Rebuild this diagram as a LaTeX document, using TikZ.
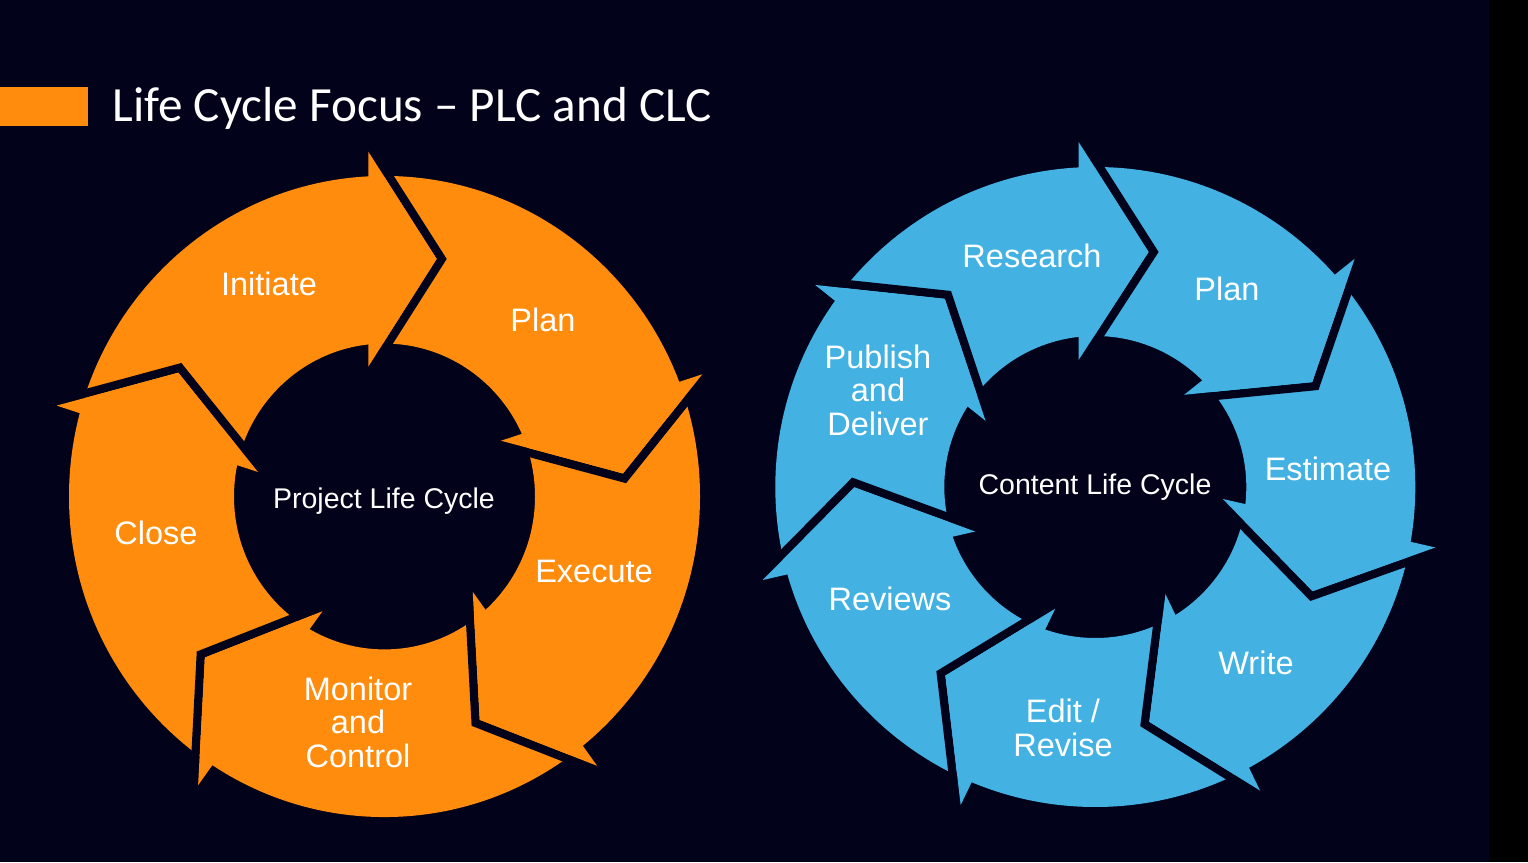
\documentclass[tikz,border=0pt]{standalone}
\usepackage{fontspec}
\setmainfont{Liberation Sans}
\newfontfamily\titlefont{Carlito}
\usepackage{tikz}
\usetikzlibrary{positioning}
\definecolor{navy}{HTML}{02021A}
\definecolor{plcorange}{HTML}{FF8C0C}
\definecolor{clcblue}{HTML}{43B2E3}

\begin{document}
\begin{tikzpicture}
[x=1pt,y=1pt,
label/.style = {text = white, font = \fontsize{32.5}{33.5}\selectfont, align = center},
hub/.style = {text = white, font = \fontsize{28.5}{30}\selectfont},]
\useasboundingbox (0,0) rectangle (1528,862);
\fill[navy] (0,0) rectangle (1489,862);
\fill[black] (1489,0) rectangle (1528,862);
\fill[plcorange] (0,736) rectangle (88,775);
\node (Title) at (109,740)[anchor=base west,text=white,font=\titlefont\fontsize{49.2}{60}\selectfont] {Life Cycle Focus – PLC and CLC};

% project life cycle ring
\begin{scope}[shift={(384.5,365.5)},yscale=1.016]
\fill[plcorange,even odd rule] (0,0) circle (315.5) (0,0) circle (150.5);
\foreach \i in {0,...,4}
  \fill[navy,rotate=-72*\i] (-16.2,339.4) -- (52.2,233.8) -- (-16.2,127.8) -- (-6.2,127.8) -- (62.2,233.8) -- (-6.2,339.4) -- cycle;
\foreach \i in {0,...,4}
  \fill[plcorange,rotate=-72*\i] (-16.2,339.4) -- (52.2,233.8) -- (-16.2,127.8) -- cycle;
\end{scope}

% content life cycle ring
\begin{scope}[shift={(1095.3,375)}]
\fill[clcblue,even odd rule] (0,0) circle (320) (0,0) circle (151);
\foreach \i in {0,...,6}
  \fill[navy,rotate=-360/7*\i] (-16.7,345) -- (53.3,235) -- (-16.7,127) -- (-6.7,127) -- (63.3,235) -- (-6.7,345) -- cycle;
\foreach \i in {0,...,6}
  \fill[clcblue,rotate=-360/7*\i] (-16.7,345) -- (53.3,235) -- (-16.7,127) -- cycle;
\end{scope}

\node (Initiate) at (269,578)[label] {Initiate};
\node (PlanL) at (543,542)[label] {Plan};
\node (Execute) at (594,291)[label] {Execute};
\node (Monitor) at (358,140)[label] {Monitor\\and\\Control};
\node (Close) at (156,329)[label] {Close};
\node (PLC) at (384,361)[hub] {Project Life Cycle};

\node (Research) at (1032,606)[label] {Research};
\node (PlanR) at (1227,573)[label] {Plan};
\node (Estimate) at (1328,393)[label] {Estimate};
\node (Write) at (1256,199)[label] {Write};
\node (Edit) at (1063,134)[label] {Edit /\\Revise};
\node (Reviews) at (890,263)[label] {Reviews};
\node (Publish) at (878,472)[label] {Publish\\and\\Deliver};
\node (CLC) at (1095,375)[hub] {Content Life Cycle};
\end{tikzpicture}
\end{document}
